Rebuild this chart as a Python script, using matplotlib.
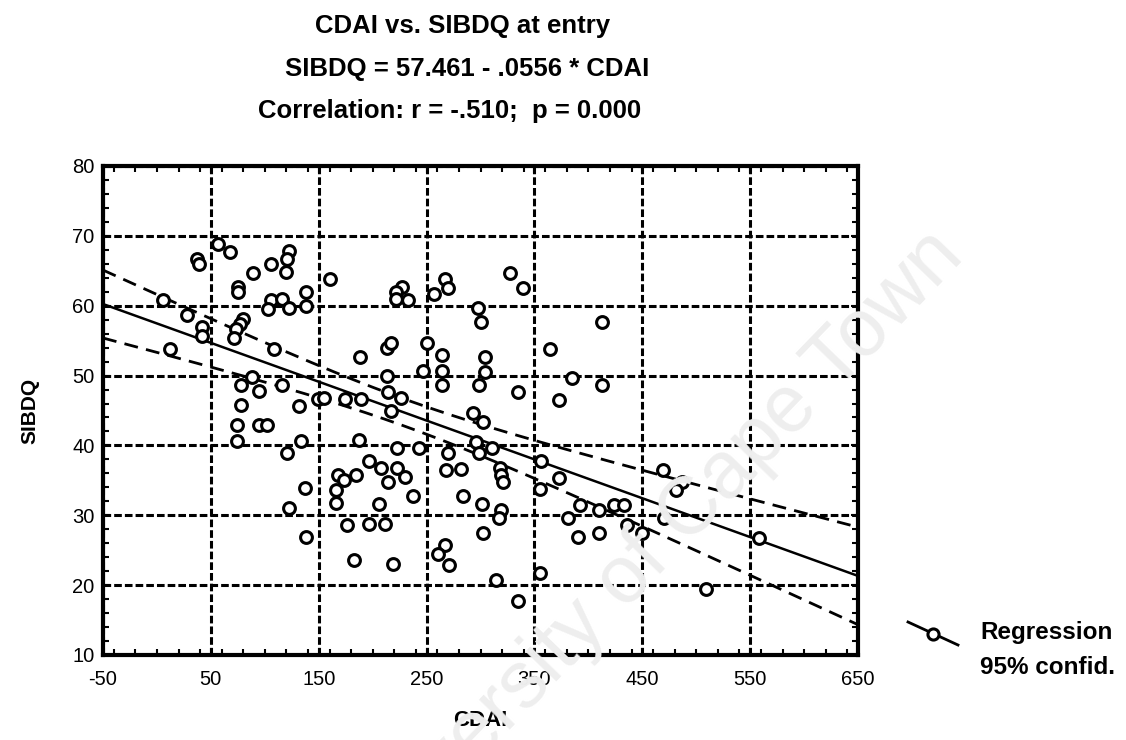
import numpy as np
import matplotlib
matplotlib.use("Agg")
import matplotlib.pyplot as plt
from matplotlib.lines import Line2D
from matplotlib.ticker import MultipleLocator

plt.rcParams["axes.unicode_minus"] = False
plt.rcParams["font.family"] = "Liberation Sans"

# CDAI / SIBDQ pairs
cdai = [57, 68, 37, 39, 122, 121, 120, 106, 89, 160, 75, 75, 106, 103, 116, 122,
        138, 138, 6, 28, 42, 42, 12, 109, 80, 77, 73, 71, 88, 78, 95, 116,
        78, 132, 149, 155, 174, 188, 189,
        74, 74, 95, 102, 134, 121, 187, 168, 173, 166, 166, 185, 137, 122, 176, 138, 183,
        227, 222, 222, 233, 257, 267, 270, 327, 339, 298, 300, 213, 217, 250, 264, 264,
        264, 247, 213, 304, 304, 299, 364, 385, 335, 373, 214, 226, 293, 302,
        217, 223, 243, 296, 299, 311, 270, 268, 282, 356, 373, 318, 319, 321, 355, 392,
        381, 390, 197, 208, 214, 223, 230, 206, 237, 197, 211, 284, 301, 319, 317, 302,
        267, 261, 271, 219, 314, 355, 335,
        413, 413, 410, 424, 433, 410, 436, 450, 469, 487, 481, 470, 558, 509]
sibdq = [68.9, 67.7, 66.7, 65.9, 67.9, 66.7, 64.8, 66.0, 64.7, 63.8, 62.7, 61.9, 60.8, 59.6, 60.9, 59.7,
         61.9, 59.9, 60.8, 58.6, 56.9, 55.6, 53.8, 53.8, 58.1, 57.4, 56.6, 55.4, 49.8, 48.7, 47.8, 48.7,
         45.8, 45.7, 46.6, 46.8, 46.6, 52.7, 46.7,
         42.9, 40.7, 42.9, 42.9, 40.7, 38.9, 40.8, 35.8, 35.1, 33.6, 31.7, 35.7, 33.9, 31.0, 28.6, 26.9, 23.6,
         62.7, 61.9, 60.9, 60.8, 61.7, 63.8, 62.5, 64.7, 62.5, 59.7, 57.7, 53.9, 54.7, 54.6, 52.9, 50.6,
         48.7, 50.6, 49.9, 52.7, 50.5, 48.7, 53.8, 49.7, 47.6, 46.5, 47.7, 46.8, 44.6, 43.4,
         44.9, 39.6, 39.6, 40.5, 38.9, 39.6, 38.9, 36.5, 36.6, 37.7, 35.4, 36.7, 35.8, 34.7, 33.7, 31.5,
         29.6, 26.9, 37.7, 36.7, 34.8, 36.7, 35.5, 31.6, 32.7, 28.7, 28.7, 32.7, 31.6, 30.8, 29.6, 27.5,
         25.7, 24.5, 22.9, 23.0, 20.7, 21.8, 17.8,
         57.7, 48.7, 30.8, 31.5, 31.5, 27.5, 28.6, 27.4, 36.5, 34.8, 33.6, 29.6, 26.8, 19.4]

# regression line as printed in the title
intercept, slope = 57.461, -0.0556

x = np.array(cdai, dtype=float)
y = np.array(sibdq, dtype=float)
n = len(x)

# 95% confidence band of the mean around the regression line
xs = np.linspace(-50, 650, 200)
fit = intercept + slope * xs
resid = y - (intercept + slope * x)
s = np.sqrt((resid ** 2).sum() / (n - 2))
sxx = ((x - x.mean()) ** 2).sum()
half = 1.977 * s * np.sqrt(1.0 / n + (xs - x.mean()) ** 2 / sxx)

fig = plt.figure(figsize=(11.26, 7.40), dpi=100)

# faint thesis watermark (behind everything)
fig.text(650 / 1126, 1 - 555 / 740, "University of Cape Town", ha="center", va="center",
         rotation=46, fontsize=58, color="#eeeeee", zorder=0)

ax = fig.add_axes([103 / 1126, 1 - 655 / 740, (858 - 103) / 1126, (655 - 166) / 740])
ax.set_facecolor("none")

ax.plot(xs, fit, color="black", lw=1.8, zorder=3)
ax.plot(xs, fit + half, color="black", lw=2, ls=(0, (5, 3)), zorder=3)
ax.plot(xs, fit - half, color="black", lw=2, ls=(0, (5, 3)), zorder=3)
ax.plot(x, y, "o", mfc="white", mec="black", ms=8.5, mew=2.2, zorder=4)

ax.set_xlim(-50, 650)
ax.set_ylim(10, 80)
ax.set_xticks(np.arange(-50, 651, 100))
ax.set_yticks(np.arange(10, 81, 10))
ax.xaxis.set_minor_locator(MultipleLocator(20))
ax.yaxis.set_minor_locator(MultipleLocator(2))
ax.tick_params(which="both", direction="in", top=True, right=True, width=1.5, color="black")
ax.tick_params(which="major", length=5, labelsize=14.5)
ax.tick_params(axis="x", which="major", pad=11)
ax.tick_params(axis="y", which="major", pad=6)
ax.tick_params(which="minor", length=4)
ax.grid(True, which="major", color="black", lw=2.2, ls=(0, (2.5, 1)), zorder=1)
ax.set_axisbelow(True)
for sp in ax.spines.values():
    sp.set_linewidth(3)

ax.set_xlabel("CDAI", fontsize=16, fontweight="bold", labelpad=15)
ax.set_ylabel("SIBDQ", fontsize=15, fontweight="bold", labelpad=24)

# three line title
fig.text(463 / 1126, 1 - 26 / 740, "CDAI vs. SIBDQ at entry", ha="center", va="center",
         fontsize=18.5, fontweight="bold")
fig.text(467 / 1126, 1 - 69 / 740, "SIBDQ = 57.461 - .0556 * CDAI", ha="center", va="center",
         fontsize=18.5, fontweight="bold")
fig.text(450 / 1126, 1 - 111 / 740, "Correlation: r = -.510;  p = 0.000", ha="center", va="center",
         fontsize=18.5, fontweight="bold")

# legend outside the plot, slanted key like the original
fig.lines.append(Line2D([908 / 1126, 958 / 1126], [1 - 622 / 740, 1 - 645 / 740],
                        transform=fig.transFigure, color="black", lw=2))
fig.lines.append(Line2D([933 / 1126], [1 - 634 / 740], transform=fig.transFigure,
                        marker="o", mfc="white", mec="black", ms=8, mew=2.2))
fig.text(980 / 1126, 1 - 633 / 740, "Regression", ha="left", va="center",
         fontsize=17.5, fontweight="bold")
fig.text(980 / 1126, 1 - 668 / 740, "95% confid.", ha="left", va="center",
         fontsize=17.5, fontweight="bold")

fig.savefig("out.png", dpi=100)
